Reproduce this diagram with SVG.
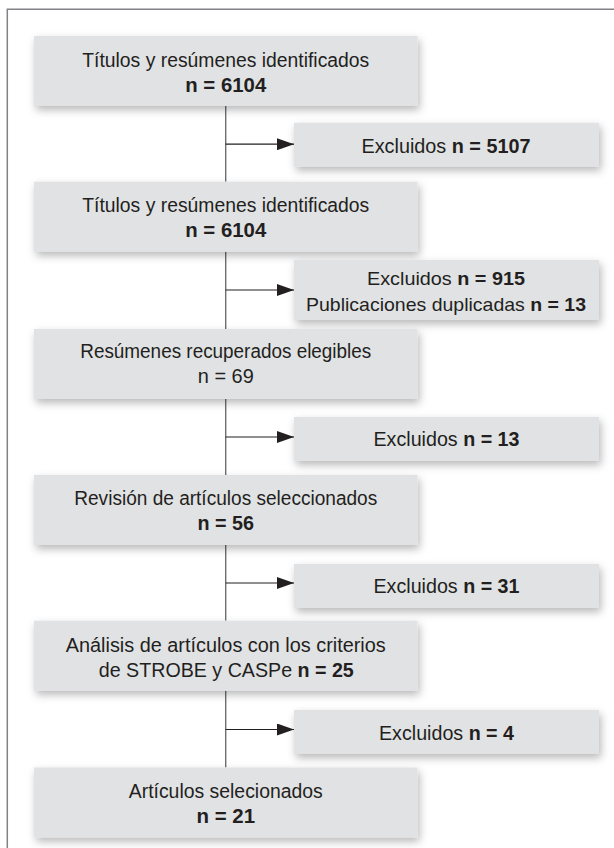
<svg xmlns="http://www.w3.org/2000/svg" width="614" height="848" viewBox="0 0 614 848">
  <defs>
    <filter id="sh" x="-10%" y="-20%" width="125%" height="160%">
      <feDropShadow dx="2" dy="4" stdDeviation="4" flood-color="#000" flood-opacity="0.28"/>
    </filter>
    <marker id="arr" markerUnits="userSpaceOnUse" markerWidth="17" markerHeight="12" viewBox="0 0 17 12" refX="17" refY="6" orient="auto">
      <path d="M0,0 L17,6 L0,12 Z" fill="#231f20"/>
    </marker>
  </defs>
  <style>
    .box { fill: #e1e2e4; filter: url(#sh); }
    text { font-family: "Liberation Sans", Arial, sans-serif; font-size: 20px; fill: #231f20; text-anchor: middle; }
    .s { font-size: 19px; }
    .b { font-weight: bold; }
    .vline { stroke: #6d6e70; stroke-width: 1.4; fill: none; }
    .arrow { stroke: #231f20; stroke-width: 1.2; fill: none; marker-end: url(#arr); }
    .frame { stroke: #808285; stroke-width: 1.5; fill: none; }
  </style>
  <rect width="614" height="848" fill="#ffffff"/>
  <path class="frame" d="M7.3,848 V9.3 H614"/>

  <g id="connectors">
    <line class="vline" x1="225.7" y1="106" x2="225.7" y2="181.7"/>
    <line class="vline" x1="225.7" y1="251.7" x2="225.7" y2="329"/>
    <line class="vline" x1="225.7" y1="399" x2="225.7" y2="475"/>
    <line class="vline" x1="225.7" y1="545" x2="225.7" y2="620.7"/>
    <line class="vline" x1="225.7" y1="690.7" x2="225.7" y2="767.5"/>
    <line class="arrow" x1="225.7" y1="144.2" x2="294" y2="144.2"/>
    <line class="arrow" x1="225.7" y1="290" x2="294" y2="290"/>
    <line class="arrow" x1="225.7" y1="437" x2="294" y2="437"/>
    <line class="arrow" x1="225.7" y1="583" x2="294" y2="583"/>
    <line class="arrow" x1="225.7" y1="729.5" x2="294" y2="729.5"/>
  </g>

  <g id="n1">
    <rect class="box" x="34" y="36" width="383.5" height="70"/>
    <text x="225.75" y="66.7" textLength="287" lengthAdjust="spacingAndGlyphs">Títulos y resúmenes identificados</text>
    <text x="225.75" y="91.5" class="b" textLength="81" lengthAdjust="spacingAndGlyphs">n = 6104</text>
  </g>
  <g id="e1">
    <rect class="box" x="294" y="122.7" width="305" height="44"/>
    <text x="446" y="152.8" textLength="169" lengthAdjust="spacingAndGlyphs">Excluidos <tspan class="b">n = 5107</tspan></text>
  </g>
  <g id="n2">
    <rect class="box" x="34" y="181.7" width="383.5" height="70"/>
    <text x="225.75" y="211.7" textLength="287" lengthAdjust="spacingAndGlyphs">Títulos y resúmenes identificados</text>
    <text x="225.75" y="237.3" class="b" textLength="81" lengthAdjust="spacingAndGlyphs">n = 6104</text>
  </g>
  <g id="e2">
    <rect class="box" x="294" y="260" width="305" height="60"/>
    <text x="446" y="285" class="s" textLength="158" lengthAdjust="spacingAndGlyphs">Excluidos <tspan class="b">n = 915</tspan></text>
    <text x="446" y="310.7" class="s" textLength="280" lengthAdjust="spacingAndGlyphs">Publicaciones duplicadas <tspan class="b">n = 13</tspan></text>
  </g>
  <g id="n3">
    <rect class="box" x="34" y="329" width="383.5" height="70"/>
    <text x="225.75" y="358.3" textLength="291" lengthAdjust="spacingAndGlyphs">Resúmenes recuperados elegibles</text>
    <text x="225.75" y="383.3" textLength="56" lengthAdjust="spacingAndGlyphs">n = 69</text>
  </g>
  <g id="e3">
    <rect class="box" x="294" y="417" width="305" height="44"/>
    <text x="446.5" y="445.7" textLength="146" lengthAdjust="spacingAndGlyphs">Excluidos <tspan class="b">n = 13</tspan></text>
  </g>
  <g id="n4">
    <rect class="box" x="34" y="475" width="383.5" height="70"/>
    <text x="225.75" y="505" textLength="303" lengthAdjust="spacingAndGlyphs">Revisión de artículos seleccionados</text>
    <text x="225.75" y="530" class="b" textLength="56.5" lengthAdjust="spacingAndGlyphs">n = 56</text>
  </g>
  <g id="e4">
    <rect class="box" x="294" y="564" width="305" height="44"/>
    <text x="446.5" y="593.3" textLength="146" lengthAdjust="spacingAndGlyphs">Excluidos <tspan class="b">n = 31</tspan></text>
  </g>
  <g id="n5">
    <rect class="box" x="34" y="620.7" width="383.5" height="70"/>
    <text x="225.75" y="651.7" textLength="320" lengthAdjust="spacingAndGlyphs">Análisis de artículos con los criterios</text>
    <text x="226.3" y="676.7" textLength="255" lengthAdjust="spacingAndGlyphs">de STROBE y CASPe <tspan class="b">n = 25</tspan></text>
  </g>
  <g id="e5">
    <rect class="box" x="294" y="710" width="305" height="44"/>
    <text x="446.5" y="740" textLength="135" lengthAdjust="spacingAndGlyphs">Excluidos <tspan class="b">n = 4</tspan></text>
  </g>
  <g id="n6">
    <rect class="box" x="34" y="767.5" width="383.5" height="70"/>
    <text x="225.75" y="798" textLength="194" lengthAdjust="spacingAndGlyphs">Artículos selecionados</text>
    <text x="225.75" y="822.7" class="b" textLength="58.5" lengthAdjust="spacingAndGlyphs">n = 21</text>
  </g>
</svg>
